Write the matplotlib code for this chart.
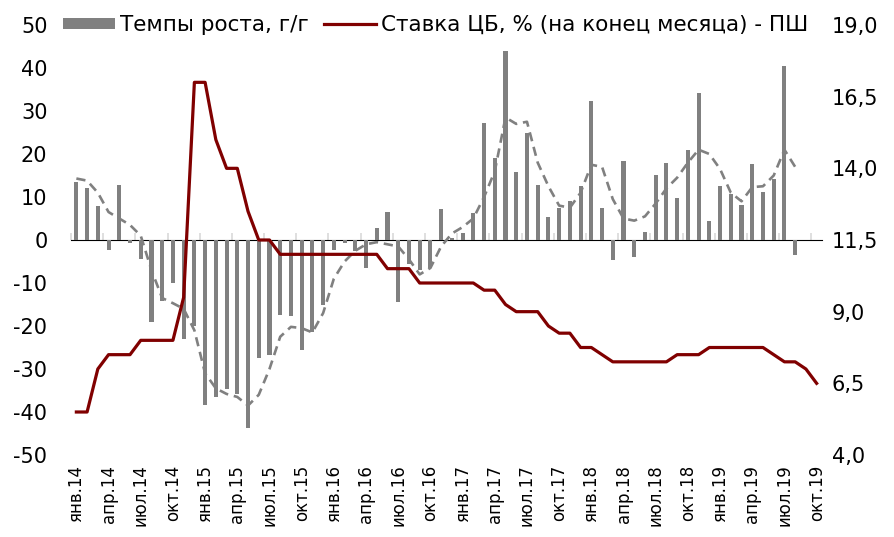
import matplotlib.pyplot as plt
import numpy as np
from matplotlib.ticker import FuncFormatter

plt.rcParams['font.family'] = ['DejaVu Sans']
plt.rcParams['axes.unicode_minus'] = False

month_names = ['янв', 'фев', 'мар', 'апр', 'май', 'июн',
               'июл', 'авг', 'сен', 'окт', 'ноя', 'дек']
months = [f"{m}.{y}" for y in range(14, 20) for m in month_names][:70]

# темпы роста, г/г (янв.14 - авг.19)
growth = [13.5, 12.2, 7.8, -2.3, 12.8, -0.6, -4.5, -19.0, -14.3, -10.0, -23.0, -20.0,
          -38.4, -36.4, -34.7, -35.9, -43.8, -27.4, -26.7, -17.4, -17.6, -25.6, -21.3, -15.1,
          -2.3, -0.8, -2.5, -6.5, 2.8, 6.4, -14.5, -5.5, -7.0, -6.5, 7.2, 0.4,
          1.6, 6.2, 27.1, 19.0, 44.0, 15.9, 25.0, 12.9, 5.4, 7.5, 9.1, 12.6,
          32.3, 7.4, -4.7, 18.4, -4.0, 1.9, 15.1, 17.8, 9.7, 20.9, 34.1, 4.4,
          12.6, 10.6, 8.1, 17.6, 11.2, 14.2, 40.5, -3.6]

# сглаженная линия (пунктир)
growth_smooth = [14.3, 13.8, 11.0, 6.5, 5.0, 3.5, 1.0, -7.0, -13.5, -14.7, -16.0, -21.0,
                 -31.0, -34.5, -35.8, -36.5, -38.5, -36.0, -30.0, -22.5, -20.2, -20.5, -21.5, -17.0,
                 -9.0, -5.0, -2.5, -1.0, -0.5, -1.0, -1.5, -4.5, -8.0, -6.5, -1.5, 1.5,
                 3.0, 5.0, 10.0, 16.0, 28.5, 27.0, 27.5, 18.0, 12.5, 8.0, 7.5, 11.0,
                 17.5, 17.0, 9.5, 5.0, 4.5, 5.5, 8.5, 12.0, 14.5, 18.0, 21.0, 20.0,
                 16.5, 11.0, 9.0, 12.3, 12.5, 15.0, 21.0, 17.0]

# ставка ЦБ, % на конец месяца (янв.14 - окт.19)
key_rate = [5.5, 5.5, 7.0, 7.5, 7.5, 7.5, 8.0, 8.0, 8.0, 8.0, 9.5, 17.0,
            17.0, 15.0, 14.0, 14.0, 12.5, 11.5, 11.5, 11.0, 11.0, 11.0, 11.0, 11.0,
            11.0, 11.0, 11.0, 11.0, 11.0, 10.5, 10.5, 10.5, 10.0, 10.0, 10.0, 10.0,
            10.0, 10.0, 9.75, 9.75, 9.25, 9.0, 9.0, 9.0, 8.5, 8.25, 8.25, 7.75,
            7.75, 7.5, 7.25, 7.25, 7.25, 7.25, 7.25, 7.25, 7.5, 7.5, 7.5, 7.75,
            7.75, 7.75, 7.75, 7.75, 7.75, 7.5, 7.25, 7.25, 7.0, 6.5]

fig = plt.figure(figsize=(8.95, 5.37), dpi=100)
ax = fig.add_axes([71 / 895, 1 - 455 / 537, 751 / 895, 430 / 537])

x = np.arange(len(months))
bars = ax.bar(np.arange(len(growth)), growth, width=0.38, color='#808080', zorder=2)
ax.plot(np.arange(len(growth_smooth)), growth_smooth, color='#808080', lw=1.9,
        dashes=(3.5, 2.2), zorder=3)

ax.set_xlim(-0.5, len(months) - 0.5)
ax.set_ylim(-50, 50)
ax.set_yticks(range(-50, 51, 10))
for s in ax.spines.values():
    s.set_visible(False)
ax.tick_params(axis='y', length=0, pad=17, labelsize=15, colors='#000000')
ax.set_xticks(x[::3])
ax.set_xticklabels(months[::3], rotation=90, fontsize=12)
ax.tick_params(axis='x', length=0, pad=7)

# горизонтальная ось на нуле
zero_axis = ax.secondary_xaxis(0.5)
zero_axis.spines['bottom'].set_color('#d9d9d9')
zero_axis.spines['bottom'].set_linewidth(1.5)
zero_axis.set_xticks(np.arange(-0.5, len(months) - 1, 3))
zero_axis.xaxis.set_ticklabels([])
zero_axis.tick_params(length=5, width=1.2, color='#d9d9d9')

ax2 = ax.twinx()
rate_line, = ax2.plot(x, key_rate, color='#800000', lw=2.3, zorder=4)
ax2.set_ylim(4, 19)
ax2.set_yticks(np.arange(4, 19.1, 2.5))
ax2.yaxis.set_major_formatter(FuncFormatter(lambda v, p: f"{v:.1f}".replace('.', ',')))
for s in ax2.spines.values():
    s.set_visible(False)
ax2.tick_params(axis='y', length=0, pad=7, labelsize=15)

fig.legend([bars, rate_line],
           ['Темпы роста, г/г', 'Ставка ЦБ, % (на конец месяца) - ПШ'],
           loc='center left', bbox_to_anchor=(63 / 895, 1 - 25 / 537),
           ncol=2, frameon=False, fontsize=15.5, handlelength=2.4, handleheight=0.45,
           handletextpad=0.25, columnspacing=0.7, borderpad=0, borderaxespad=0)

fig.savefig('out.png', dpi=100)
